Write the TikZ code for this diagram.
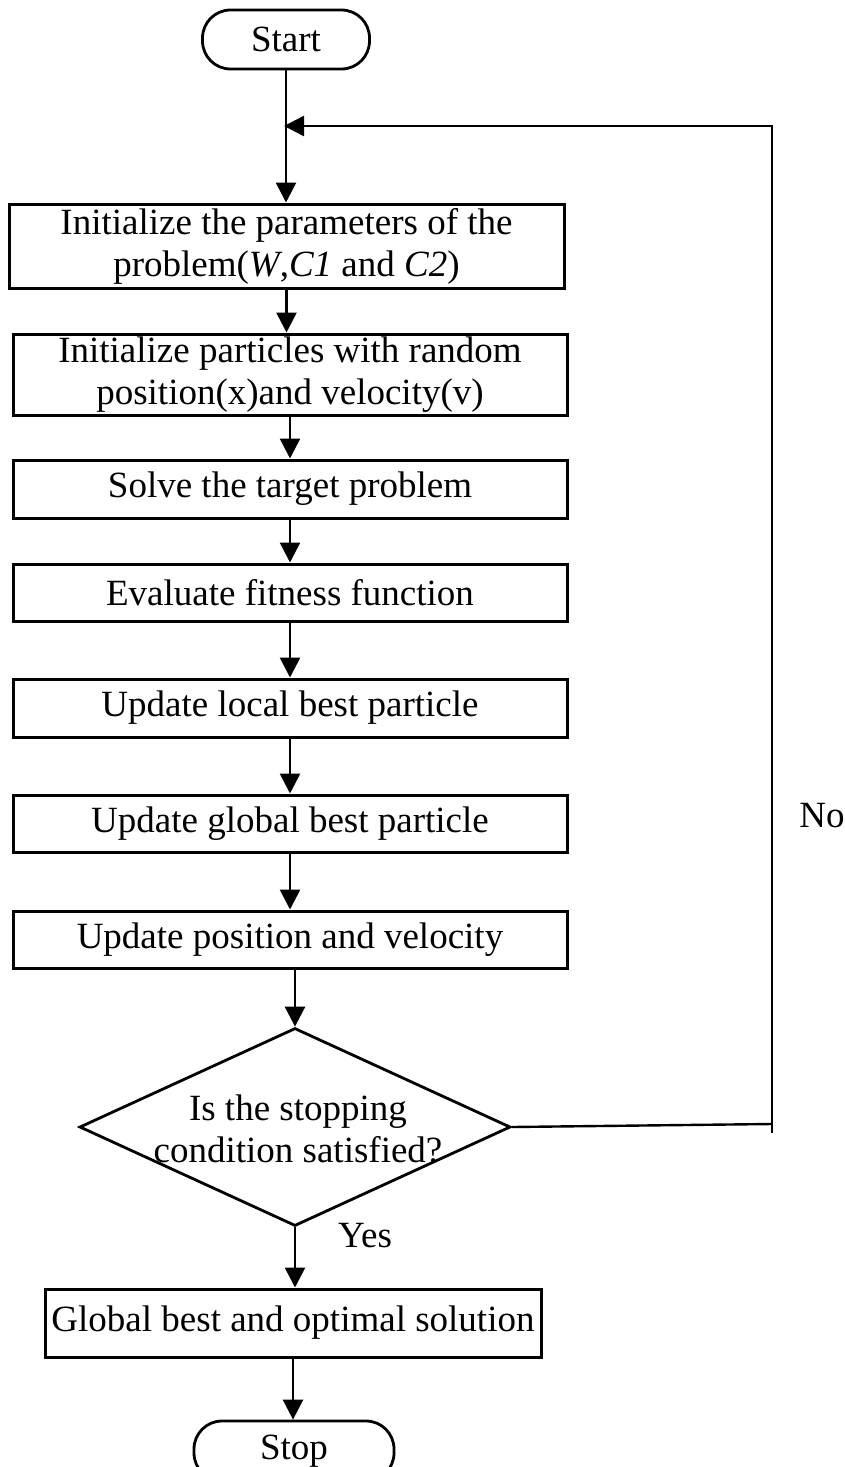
\documentclass[tikz,border=0pt]{standalone}
\usepackage{fontspec}
\setmainfont{Liberation Serif}
\usetikzlibrary{arrows.meta,shapes.geometric,calc}
\newcommand\figfont{\fontsize{37}{42}\selectfont}
\begin{document}
\begin{tikzpicture}[x=1pt,y=-1pt,
  box/.style={draw,line width=3pt,rectangle,inner sep=0pt,align=center,font=\figfont},
  term/.style={draw,line width=2.8pt,rounded corners=28pt,inner sep=0pt,font=\figfont},
  dia/.style={draw,line width=2.8pt,diamond,inner sep=0pt,minimum width=431pt,minimum height=198pt},
  conn/.style={line width=2.7pt,-{Triangle[length=20pt,width=20pt]}},
  lbl/.style={inner sep=0pt,font=\figfont,align=center},
  loopline/.style={line width=2.4pt}]
\clip (0,0) rectangle (844,1467);
% nodes
\node[term,minimum width=167pt,minimum height=59pt] (start) at (286,39.5) {Start};
\node[box,minimum width=555pt,minimum height=84pt] (b1) at (286.5,246) {Initialize the parameters of the\\problem(\textit{W},\textit{C1} and \textit{C2})};
\node[box,minimum width=554pt,minimum height=81pt] (b2) at (290,374.5) {Initialize particles with random\\position(x)and velocity(v)};
\node[box,minimum width=554pt,minimum height=58pt] (b3) at (290,489) {Solve the target problem};
\node[box,minimum width=554pt,minimum height=57pt] (b4) at (290,592.5) {Evaluate fitness function};
\node[box,minimum width=554pt,minimum height=58pt] (b5) at (290,708) {Update local best particle};
\node[box,minimum width=554pt,minimum height=57pt] (b6) at (290,823.5) {Update global best particle};
\node[box,minimum width=554pt,minimum height=57pt] (b7) at (290,939.5) {Update position and velocity};
\node[dia] (d) at (295,1127) {};
\node[lbl] (dtext) at (298,1129) {Is the stopping\\condition satisfied?};
\node[box,minimum width=496pt,minimum height=68pt] (b8) at (293,1323) {Global best and optimal solution};
\node[term,minimum width=200pt,minimum height=60pt] (stop) at (294,1451) {Stop};
\node[lbl] (yes) at (365,1236) {Yes};
\node[lbl] (no) at (822,816) {No};
% coordinates for the loop
\coordinate (join) at (287,126);
\coordinate (c1) at (772,1124);
\coordinate (c2) at (772,1133);
\coordinate (c3) at (772,126);
% connectors
\draw[conn] (start.south) -- (start.south |- b1.north);
\draw[conn] (b1.south) -- (b1.south |- b2.north);
\draw[conn] (b2.south) -- (b2.south |- b3.north);
\draw[conn] (b3.south) -- (b3.south |- b4.north);
\draw[conn] (b4.south) -- (b4.south |- b5.north);
\draw[conn] (b5.south) -- (b5.south |- b6.north);
\draw[conn] (b6.south) -- (b6.south |- b7.north);
\draw[conn] (d.north |- b7.south) -- (d.north);
\draw[conn] (d.south) -- (d.south |- b8.north);
\draw[conn] (b8.south) -- (b8.south |- stop.north);
\draw[loopline] (d.east) -- (c1);
\draw[loopline,-{Triangle[length=20pt,width=20pt]}] (c2) -- (c3) -- ($(join)+(-3,0)$);
\end{tikzpicture}
\end{document}
